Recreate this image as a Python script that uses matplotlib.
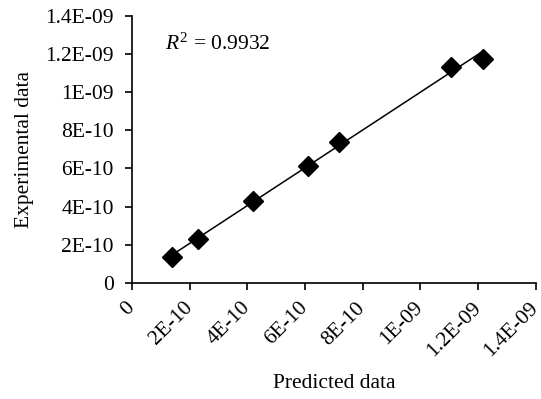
import numpy as np
import matplotlib.pyplot as plt
from matplotlib.transforms import ScaledTranslation

plt.rcParams['font.family'] = ['Liberation Serif', 'DejaVu Serif']
plt.rcParams['mathtext.fontset'] = 'custom'
plt.rcParams['mathtext.it'] = 'Liberation Serif:italic'
plt.rcParams['mathtext.rm'] = 'Liberation Serif'

predicted = [1.38e-10, 2.29e-10, 4.19e-10, 6.12e-10, 7.18e-10, 1.105e-9, 1.217e-9]
experimental = [1.35e-10, 2.29e-10, 4.30e-10, 6.15e-10, 7.41e-10, 1.134e-9, 1.176e-9]
ticks = [0, 2e-10, 4e-10, 6e-10, 8e-10, 1e-9, 1.2e-9, 1.4e-9]
tick_labels = ["0", "2E-10", "4E-10", "6E-10", "8E-10", "1E-09", "1.2E-09", "1.4E-09"]
r2_text = "$R^2$ = 0.9932"

fig = plt.figure(figsize=(5.41, 3.99), dpi=100)
ax = fig.add_axes([0.244, 0.291, 0.746, 0.669])

# linear trendline over the data range
slope, icpt = np.polyfit(predicted, experimental, 1)
xs = np.array([min(predicted), max(predicted)])
ax.plot(xs, slope * xs + icpt, color='black', lw=1.1, zorder=2)
ax.plot(predicted, experimental, 'D', color='black', markersize=10, zorder=3)

ax.set_xlim(0, 1.4e-9)
ax.set_ylim(0, 1.4e-9)
ax.set_xticks(ticks)
ax.set_xticklabels(tick_labels, rotation=45, ha='right', va='center',
                   rotation_mode='anchor')
shift = ScaledTranslation(-4 / 72, 0, fig.dpi_scale_trans)
for lbl in ax.get_xticklabels():
    lbl.set_transform(lbl.get_transform() + shift)
ax.set_yticks(ticks)
ax.set_yticklabels(tick_labels)
ax.tick_params(labelsize=15.5, length=5, width=1.2, direction='out', color='black')
ax.tick_params(axis='y', pad=8)
ax.tick_params(axis='x', pad=11)
ax.spines['top'].set_visible(False)
ax.spines['right'].set_visible(False)
ax.spines['left'].set_linewidth(1.2)
ax.spines['bottom'].set_linewidth(1.2)

ax.set_xlabel("Predicted data", fontsize=15.5, labelpad=10)
ax.set_ylabel("Experimental data", fontsize=15.5, labelpad=8)
ax.text(1.13e-10, 1.25e-9, r2_text, fontsize=15.5, va='center', ha='left')

fig.savefig("out.png", dpi=100)
